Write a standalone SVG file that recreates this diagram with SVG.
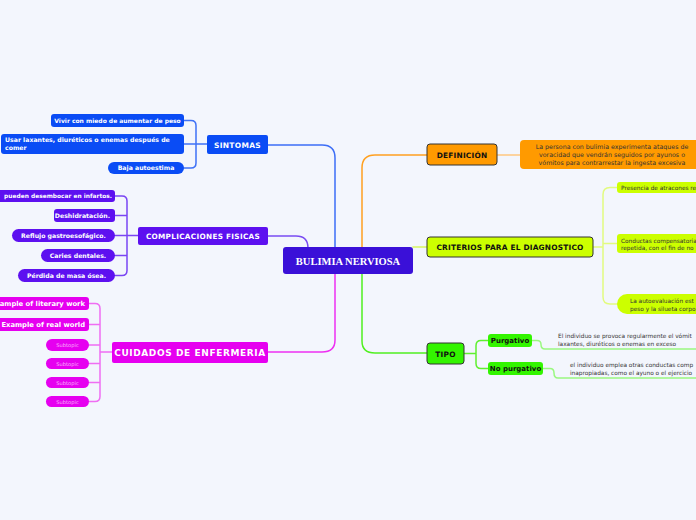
<svg xmlns="http://www.w3.org/2000/svg" width="696" height="520" viewBox="0 0 696 520">
<style>
text{font-family:"DejaVu Sans",Verdana,sans-serif}
.w{fill:#fff;font-weight:bold;font-size:6.2px}
.m{text-anchor:middle}
.e{text-anchor:end}
.main{fill:#fff;font-weight:bold;font-size:7.5px;text-anchor:middle;letter-spacing:0.3px}
.rmain{fill:#111;font-weight:bold;font-size:7.4px;text-anchor:middle;letter-spacing:0.2px}
.d{fill:#333;font-size:5.8px}
.sub{fill:#f9b0fb;font-size:5.2px;text-anchor:middle}
.c{fill:none;stroke-width:1.5;stroke-linecap:round}
.k{stroke:#333;stroke-width:1}
</style>
<rect width="696" height="520" fill="#f3f6fd"/>
<g id="connectors">
<path class="c" d="M268,145 H322 Q335,145 335,158 V248" stroke="#3d6ef6" stroke-width="2"/>
<path class="c" d="M268,236 H296 Q308,236 308,248" stroke="#7a4cf2" stroke-width="2"/>
<path class="c" d="M335,274 V340 Q335,352 322,352 H268" stroke="#ee30f2" stroke-width="2"/>
<path class="c" d="M362,248 V168 Q362,155 375,155 H427" stroke="#ffa020" stroke-width="2"/>
<path class="c" d="M413,247 H427" stroke="#d8f860" stroke-width="1.5"/>
<path class="c" d="M362,274 V341 Q362,353 375,353 H427" stroke="#50f020" stroke-width="2"/>
<path class="c" d="M184,120.5 H191 Q196,120.5 196,125.5 V163 Q196,168 191,168 H184 M184,144 H207" stroke="#3f72f6"/>
<path class="c" d="M115,196 H122 Q127,196 127,201 V270.5 Q127,275.5 122,275.5 H115 M115,215.5 H127 M115,235.5 H138 M115,255.5 H127" stroke="#7a45f3"/>
<path class="c" d="M89,303.5 H95 Q100,303.5 100,308.5 V396.5 Q100,401.5 95,401.5 H89 M89,324.5 H100 M89,345 H100 M89,363.5 H100 M89,382.5 H100 M100,352 H112" stroke="#ef6ef3"/>
<path class="c" d="M497,155 H520" stroke="#ffc880"/>
<path class="c" d="M593,247 H603 M617,187.5 H610 Q603,187.5 603,194.5 V297 Q603,304 610,304 H617 M603,243.5 H617" stroke="#e2fb80"/>
<path class="c" d="M464,353.5 H476 M488,340.5 H481 Q476,340.5 476,345.5 V363.5 Q476,368.5 481,368.5 H488" stroke="#60f030"/>
<path class="c" d="M532,340.5 H537 Q541,340.5 541,344.5 Q541,349 545,349 H696" stroke="#9af880"/>
<path class="c" d="M543,368.5 H550 Q554,368.5 554,373 Q554,378 558,378 H696" stroke="#9af880"/>
</g>
<g id="center">
<rect x="283" y="247" width="130" height="27" rx="3" fill="#3a10d8"/>
<text x="348" y="264.5" fill="#fff" font-weight="bold" font-size="10.5" text-anchor="middle" style="font-family:'Liberation Serif',serif">BULIMIA NERVIOSA</text>
</g>
<g id="sintomas">
<rect x="207" y="135" width="61" height="19" rx="2" fill="#0a4cf5"/>
<text x="237.5" y="147.5" class="main">SINTOMAS</text>
</g>
<g id="s1"><rect x="51" y="114" width="133" height="13" rx="3" fill="#0a4cf5"/><text x="117.5" y="122.7" class="w m" style="font-size:6px">Vivir con miedo de aumentar de peso</text></g>
<g id="s2"><rect x="1" y="134" width="183" height="20" rx="3" fill="#0a4cf5"/><text x="5" y="142" class="w">Usar laxantes, diuréticos o enemas después de</text><text x="5" y="149.5" class="w">comer</text></g>
<g id="s3"><rect x="108" y="162" width="76" height="12" rx="6" fill="#0a4cf5"/><text x="146" y="170.3" class="w m">Baja autoestima</text></g>
<g id="complicaciones">
<rect x="138" y="227" width="130" height="18" rx="2" fill="#5d10f0"/>
<text x="203" y="238.8" class="main" style="font-size:7.3px">COMPLICACIONES FISICAS</text>
</g>
<g id="c1"><rect x="-10" y="190" width="125" height="12" rx="3" fill="#5d10f0"/><text x="112" y="198.3" class="w e" style="font-size:5.9px">pueden desembocar en infartos.</text></g>
<g id="c2"><rect x="54" y="209" width="61" height="13" rx="3" fill="#5d10f0"/><text x="110" y="217.8" class="w e">Deshidratación.</text></g>
<g id="c3"><rect x="12" y="229" width="103" height="13" rx="6.5" fill="#5d10f0"/><text x="63.5" y="237.8" class="w m">Reflujo gastroesofágico.</text></g>
<g id="c4"><rect x="41" y="249" width="74" height="13" rx="6.5" fill="#5d10f0"/><text x="78" y="257.8" class="w m">Caries dentales.</text></g>
<g id="c5"><rect x="18" y="269" width="97" height="13" rx="6.5" fill="#5d10f0"/><text x="66.5" y="277.8" class="w m">Pérdida de masa ósea.</text></g>
<g id="cuidados">
<rect x="112" y="342" width="156" height="21" rx="2" fill="#e600f0"/>
<text x="190" y="355.5" class="main" style="font-size:9px;letter-spacing:0.6px">CUIDADOS DE ENFERMERIA</text>
</g>
<g id="u1"><rect x="-10" y="297" width="99" height="13" rx="3" fill="#e600f0"/><text x="85" y="306" class="w e" style="font-size:6.8px">Example of literary work</text></g>
<g id="u2"><rect x="-4" y="318" width="93" height="13" rx="3" fill="#e600f0"/><text x="85" y="327" class="w e" style="font-size:6.8px">Example of real world</text></g>
<g id="u3"><rect x="46" y="339" width="43" height="12" rx="6" fill="#e600f0"/><text x="67.5" y="346.8" class="sub">Subtopic</text></g>
<g id="u4"><rect x="46" y="358" width="43" height="11" rx="5.5" fill="#e600f0"/><text x="67.5" y="365.5" class="sub">Subtopic</text></g>
<g id="u5"><rect x="46" y="377" width="43" height="11" rx="5.5" fill="#e600f0"/><text x="67.5" y="384.5" class="sub">Subtopic</text></g>
<g id="u6"><rect x="46" y="396" width="43" height="11" rx="5.5" fill="#e600f0"/><text x="67.5" y="403.5" class="sub">Subtopic</text></g>
<g id="definicion">
<rect x="427" y="144" width="70" height="21" rx="3" fill="#ff9a00" class="k"/>
<text x="462" y="157.5" class="rmain">DEFINICIÓN</text>
</g>
<g id="def1">
<rect x="520" y="140" width="190" height="29" rx="4" fill="#ff9a00"/>
<text x="612" y="149.2" class="d m" style="font-size:6.3px">La persona con bulimia experimenta ataques de</text>
<text x="612" y="157.2" class="d m" style="font-size:6.3px">voracidad que vendrán seguidos por ayunos o</text>
<text x="612" y="165.2" class="d m" style="font-size:6.3px">vómitos para contrarrestar la ingesta excesiva</text>
</g>
<g id="criterios">
<rect x="427" y="237" width="166" height="20" rx="3" fill="#ccff00" class="k"/>
<text x="510" y="250" class="rmain">CRITERIOS PARA EL DIAGNOSTICO</text>
</g>
<g id="cr1"><rect x="617" y="182" width="90" height="11" rx="3" fill="#ccff00"/><text x="621" y="189.7" class="d">Presencia de atracones re</text></g>
<g id="cr2"><rect x="617" y="234" width="90" height="19" rx="3" fill="#ccff00"/><text x="621" y="243" class="d">Conductas compensatoria</text><text x="621" y="250.3" class="d">repetida, con el fin de no</text></g>
<g id="cr3"><rect x="617" y="294" width="90" height="20" rx="10" fill="#ccff00"/><text x="630" y="303" class="d">La autoevaluación est</text><text x="630" y="310.5" class="d">peso y la silueta corpo</text></g>
<g id="tipo">
<rect x="427" y="343" width="37" height="21" rx="3" fill="#33f500" class="k"/>
<text x="445.5" y="356.5" class="rmain">TIPO</text>
</g>
<g id="t1"><rect x="488" y="334" width="44" height="13" rx="3" fill="#33f500"/><text x="510" y="343" class="m" style="font-size:7px;font-weight:bold;fill:#111">Purgativo</text></g>
<g id="t2"><rect x="488" y="362" width="55" height="13" rx="3" fill="#33f500"/><text x="515.5" y="371" class="m" style="font-size:7px;font-weight:bold;fill:#111">No purgativo</text></g>
<g id="t1d"><text x="558" y="338" class="d">El individuo se provoca regularmente el vómit</text><text x="558" y="346" class="d">laxantes, diuréticos o enemas en exceso</text></g>
<g id="t2d"><text x="570" y="366.5" class="d">el individuo emplea otras conductas comp</text><text x="570" y="374.5" class="d">inapropiadas, como el ayuno o el ejercicio</text></g>
</svg>
